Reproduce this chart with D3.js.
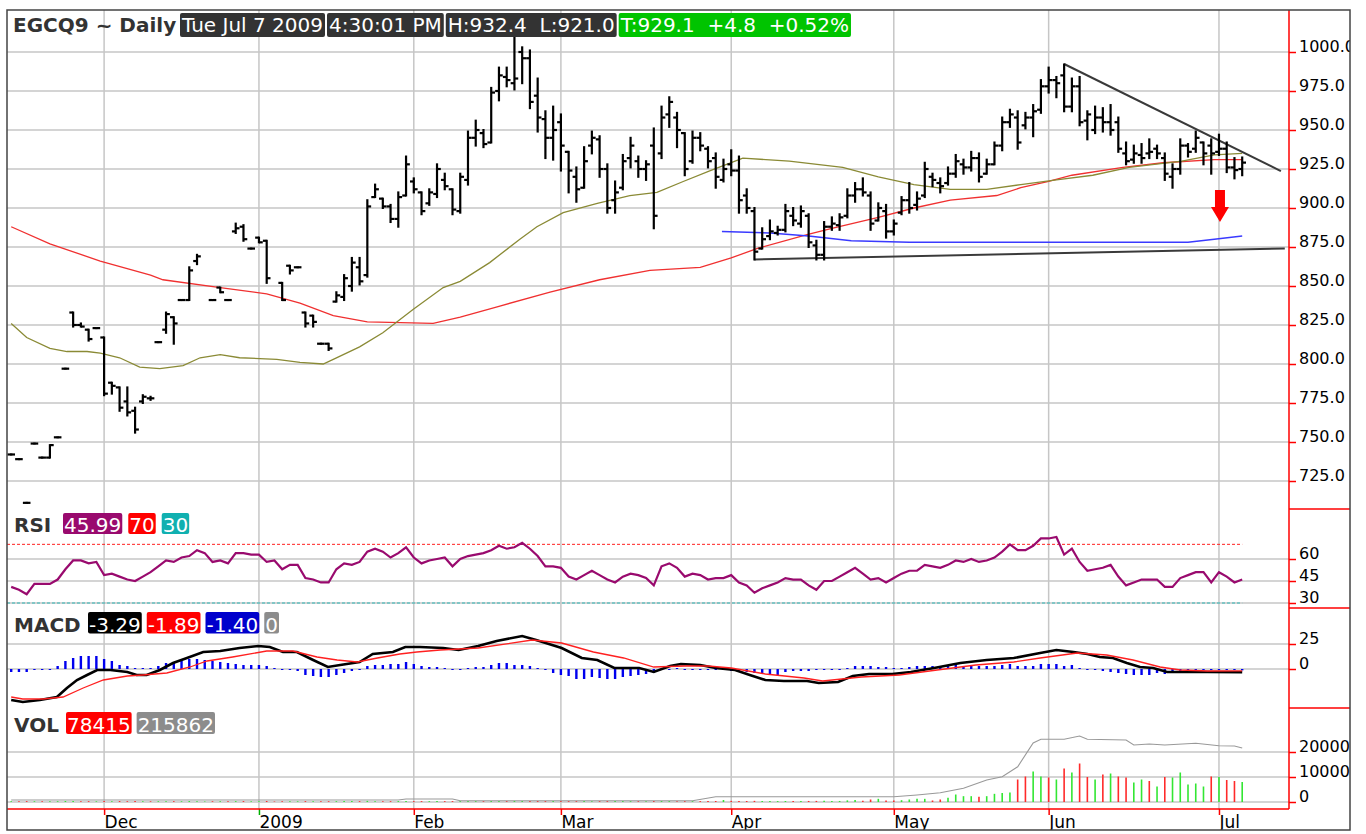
<!DOCTYPE html>
<html>
<head>
<meta charset="utf-8">
<script src="https://cdn.jsdelivr.net/npm/d3@7"></script>
<style>
body { margin: 0; background: #fff; }
svg { display: block; font-family: "DejaVu Sans", Verdana, sans-serif; }
</style>
</head>
<body>
<svg id="chart" width="1366" height="834"></svg>
<script>
// ---- data (one slot per trading day, slot 0 = mid Nov 2008) ----
const open = [
  742,739,711,749,740,740,753,797,833,825,
  822,823,817,788,785,776,770,776,778,814,
  822,830,841,841,866,null,841,849,841,885,
  888,874,881,879,null,852,863,862,833,831,
  813,813,840,843,850,862,857,907,906,901,
  893,908,917,910,903,909,918,912,898,918,
  945,948,942,975,984,980,1000,996,972,957,
  945,955,936,920,913,940,944,925,905,913,
  932,930,925,940,935,960,958,948,930,945,
  938,932,918,928,924,908,898,874,882,884,
  886,895,890,895,876,870,888,889,895,908,
  912,908,892,898,885,897,905,902,908,920,
  916,916,922,928,926,932,922,928,940,955,
  958,953,958,963,978,982,985,965,978,956,
  950,958,955,955,935,931,934,935,938,932,
  920,925,940,938,942,940,936,938,926,925];
const high = [
  742,739,711,749,740,748,753,797,833,826,
  822,823,817,788,785,785,772,780,779,814,
  833,830,841,862,870,null,841,849,841,890,
  889,874,881,879,null,852,863,862,833,831,
  813,813,846,857,868,868,905,915,906,902,
  910,933,919,910,912,928,922,912,922,949,
  956,950,977,990,990,1009,1003,1001,983,962,
  965,960,936,926,939,949,946,928,917,934,
  945,933,930,951,965,971,961,948,949,948,
  939,935,931,937,933,912,900,887,892,888,
  902,900,901,896,879,891,894,896,912,916,
  919,910,903,902,892,907,916,910,929,922,
  919,926,934,931,936,935,931,942,958,963,
  962,961,966,982,990,984,992,983,984,962,
  965,964,966,958,942,940,941,944,940,935,
  928,944,941,949,942,944,947,942,932,932.4];
const low = [
  742,739,711,749,740,740,753,797,824,824,
  815,823,780,781,770,767,756,775,777,814,
  820,813,841,841,864,null,841,846,841,884,
  879,874,878,852,null,841,858,862,824,824,
  813,809,840,841,847,851,856,907,900,891,
  888,908,910,896,902,907,912,896,897,915,
  940,939,942,969,978,976,980,964,949,932,
  931,924,910,904,913,935,920,897,897,912,
  926,920,918,887,932,952,939,921,929,937,
  926,913,917,921,897,897,867,874,880,883,
  885,889,888,875,867,867,886,886,894,904,
  908,886,892,881,883,896,897,899,907,914,
  910,915,920,922,924,917,922,928,937,952,
  938,951,946,961,974,971,962,962,953,944,
  948,949,947,936,928,929,929,932,932,918,
  913,922,933,936,928,922,934,923,919,921];
const close = [
  742,739,711,749,740,748,753,797,825,824,
  816,823,781,786,772,769,758,779,778,814,
  832,826,841,860,869,null,841,846,841,887,
  880,874,878,855,null,841,860,862,826,827,
  813,810,844,855,865,853,901,912,901,893,
  907,928,912,898,910,925,914,899,920,945,
  950,941,974,985,982,983,996,968,958,945,
  950,940,924,912,930,945,925,900,910,930,
  940,925,928,895,958,968,950,925,945,940,
  930,920,925,924,905,900,872,880,885,886,
  898,892,898,878,870,888,890,894,908,912,
  910,890,900,885,890,905,900,906,925,918,
  914,922,930,926,932,920,928,940,955,960,
  942,958,962,978,982,980,965,978,955,960,
  958,955,950,938,930,935,932,936,935,922,
  925,940,936,945,935,935,938,926,924.3,929.1];

// moving averages and the blue line, as [slot, price] points
const maRed = [[0,888],[5,877],[11.5,866],[18,857],[19.6,854],[27,849],[33,845],[37.3,839],
  [41.6,831],[46,827],[54.5,826],[58,830],[63,837],[69.6,846],[76,854],[82.5,860],[89,862],
  [93,868],[96.3,874],[102.8,883],[106,887],[112,894],[116.6,900],[121.3,905],[127.3,908],
  [130.4,913],[134,917],[137,921],[143.6,926],[148.8,929],[155.4,931],[159,931]];
const maOlive = [[0,826],[2,817],[5,810],[7.2,808],[9.8,808],[11.5,807],[14,804],[16.6,798],
  [19.2,797],[22.2,799],[24.4,804],[27,806],[29.5,804],[34.3,803],[37.3,801],[40.3,800],
  [41.6,803],[45,811],[48,820],[51.9,835],[55.8,849],[58,853],[61.8,865],[65.7,880],
  [67.9,888],[71.3,897],[75.7,903],[79.9,908],[83.4,910],[86.8,917],[90.3,924],[94.5,932],
  [100.5,930],[107.4,926],[112,920],[116.6,915],[121.3,912],[126,912],[130.4,915],[135,918],
  [139.7,921],[144.4,926],[151.2,930],[155.4,934],[159,935]];
const blueLine = [[91.8,885],[98,884],[103,882],[108.5,879],[116,878],[124.5,878],[139,878],
  [144,878],[152,878],[155.4,880],[159,882]];
const supportLine = [[96,867],[164.5,874]];
const resistLine = [[136,992.3],[164,923.7]];

const rsi = [
  41,39,36,43,43,43,46,53,59,59,
  57,58,49,50,48,46,45,48,51,55,
  59,58,61,62,66,64,58,59,57,64,
  64,63,63,58,59,53,56,56,47,46,
  44,44,53,57,56,58,65,67,65,61,
  64,68,61,57,59,60,61,55,60,62,
  63,64,66,69,67,68,71,67,62,55,
  55,54,48,46,49,52,49,46,44,48,
  50,49,47,42,55,57,54,48,50,49,
  46,47,47,49,44,42,37,40,42,44,
  47,46,46,42,39,45,45,48,51,54,
  50,46,47,44,47,50,52,52,56,55,
  54,56,59,58,60,58,59,61,65,70,
  66,66,69,74,74,75,63,67,58,52,
  53,54,56,48,42,44,46,46,46,41,
  41,47,49,51,51,44,51,48,44,45.99];

const macdLine = [[0,-31],[1.5,-33],[3.7,-31],[5.9,-28],[7.2,-19],[8.5,-11],[9.8,-6],[11.1,-1],
  [12.8,-1],[15,-3],[16.2,-6],[17.5,-6],[19.2,-1],[20.9,6],[22.7,11],[24.8,17],[27,18],
  [29.5,21],[31.9,23],[33.4,22],[35.1,17],[36.9,17],[39,9],[40.9,2],[42.5,4],[45,7],
  [46.7,15],[49.3,17],[50.9,22],[52.8,22],[55.8,21],[57.8,19],[60.3,23],[62.7,28],[66,33],
  [67.8,29],[71.1,21],[73.7,11],[75.7,9],[77.9,1],[81.1,1],[83,-3],[85.1,3],[86.5,5],[89,4],
  [91,1],[93.5,-1],[95.4,-6],[97.4,-11],[99.8,-12],[102.8,-12],[104.3,-14],[106.8,-13],
  [108.7,-7],[110.8,-5],[113.8,-5],[116.2,-3],[119.2,1],[122.6,6],[126,9],[129.5,11],
  [132.9,16],[135,19],[137.2,17],[139,15],[140.6,12],[142.3,11],[144.1,6],[145.8,2],
  [147.5,1],[149.3,-3],[151.9,-3],[154.5,-3],[159,-3.29]];
const signalLine = [[0,-28],[1.5,-30],[4.1,-30],[6.7,-28],[9.3,-19],[11.9,-11],[15,-7],[17,-6],
  [20.1,-4],[23.1,2],[25.3,8],[28.6,12],[33,18],[36.4,18],[39.5,12],[42.1,9],[44.7,7],
  [47.3,11],[50.2,15],[52.4,17],[55.4,19],[60.3,21],[67.3,29],[71.1,26],[75.2,17],[79.1,11],
  [83,2],[87,3],[90,3],[93,1],[97.4,-5],[102.4,-9],[104.8,-12],[109.8,-8],[114.7,-6],
  [119.6,-1],[124.6,4],[129.5,7],[132.9,11],[137.7,16],[141.5,14],[144.9,9],[148.4,2],
  [151,-1],[154.5,-2],[159,-1.89]];
const hist = [
  -3,-3,-3,0,0,0,3,8,11,13,
  13,13,10,8,4,3,1,1,1,3,
  6,7,8,10,10,9,8,7,6,5,
  4,4,4,3,1,0,-1,-2,-6,-7,
  -8,-8,-6,-4,-2,-1,3,4,4,5,
  5,7,5,3,2,2,1,0,0,1,
  2,2,4,6,6,4,4,3,1,-1,
  -4,-6,-7,-10,-10,-8,-9,-10,-10,-8,
  -7,-6,-5,-4,-1,0,1,0,0,0,
  0,-1,-1,-2,-2,-3,-4,-5,-5,-6,
  -3,-2,-2,-2,-1,-1,-1,0,1,3,
  3,3,2,2,1,1,2,3,3,3,
  3,4,4,3,3,3,3,3,4,5,
  3,3,3,5,5,5,3,4,1,0,
  -1,-2,-3,-4,-5,-6,-6,-6,-4,-5,
  -4,-2,-2,-1,-1,-1,0,0,-1,-1.40];

const volume = [
  1200,800,1500,1000,900,1400,1100,2000,1600,900,
  1300,700,2400,1500,1800,1200,1600,900,800,1000,
  1500,1300,900,1800,1200,0,1000,1100,800,1400,
  1600,700,1200,1900,0,1400,1000,800,1500,1100,
  900,1000,1300,1600,1800,1400,2500,1500,1200,1300,
  1600,2000,1400,1500,1200,1700,1300,1500,1600,2100,
  1500,1300,2000,2200,1600,2400,1800,2200,2000,1700,
  1900,1800,1600,1500,1700,1400,1500,1800,1600,1700,
  1500,1400,1300,2200,2000,1700,1500,1600,1400,1500,
  1800,2000,6000,2500,2200,2000,2600,1800,2000,1700,
  1900,1600,1800,2200,2400,2600,2000,2200,4500,6000,
  3000,8000,10700,4000,4000,5300,8000,10700,10700,4000,
  8000,14700,28000,21300,21300,18700,21300,30700,34000,36000,
  88000,100000,120000,100000,96000,88000,132000,116000,152000,98000,
  88000,108000,112000,100000,96000,76000,88000,82000,60000,98000,
  96000,116000,68000,72000,60000,100000,98000,86000,82000,78415];
// g = up day, r = down day
const volDir =
  "grrgrggggr" + "rgrgrrrgrg" + "grggggrgrg" + "rggrrrggrg" + "rrgggrggrr" +
  "ggrrggrrgg" + "grggrggrrr" + "grrrggrrgg" + "grgrggrrgr" + "rrgrrrrggg" +
  "grgrrggggg" + "rrgrrggggr" + "rggggrgggg" + "rrggrgrgrr" + "grgrrggrgr" + "gggggrgrrg";
const openInterest = [[0,8000],[50,8000],[51,12000],[57,12000],[58,5000],[88,5000],[91,21000],
  [114,21000],[117,28000],[120,37000],[123,55000],[126,88000],[128,101000],[130,141000],
  [132,236000],[133,251000],[136,251000],[138,264000],[139,251000],[144,248000],[145,228000],
  [147,232000],[149,228000],[153,235000],[156,225000],[158,224000],[159,215862]];

const monthLabels = ["Dec", "2009", "Feb", "Mar", "Apr", "May", "Jun", "Jul"];
const monthSlots = [12, 32, 52, 71, 93, 114, 134, 156];

const priceTicks = [725, 750, 775, 800, 825, 850, 875, 900, 925, 950, 975, 1000];
const rsiTicks = [30, 45, 60];
const macdTicks = [0, 25];
const volTicks = [0, 100000, 200000];

const topBoxes = [["Tue Jul 7 2009", "#333333"], ["4:30:01 PM", "#333333"],
  ["H:932.4  L:921.0", "#333333"], ["T:929.1  +4.8  +0.52%", "#00c400"]];
const rsiBoxes = [["45.99", "#990a6e"], ["70", "#ff0000"], ["30", "#10b0b0"]];
const macdBoxes = [["-3.29", "#000000"], ["-1.89", "#ff0000"], ["-1.40", "#0000cc"], ["0", "#8c8c8c"]];
const volBoxes = [["78415", "#ff0000"], ["215862", "#8c8c8c"]];

// ---- layout ----
const L = 7, R = 1350, T = 10, B = 830, AX = 1289;
const svg = d3.select("#chart");

const x = d3.scaleLinear().domain([0, 159]).range([11.2, 1242.2]);
const yP = d3.scaleLinear().domain([725, 1000]).range([481, 52]);
const yR = d3.scaleLinear().domain([30, 60]).range([603, 559]);
const yM = d3.scaleLinear().domain([0, 25]).range([669, 644]);
const yV = d3.scaleLinear().domain([0, 200000]).range([802, 752]);

const panels = [
  { id: "cp", top: T, bottom: 509 },
  { id: "cr", top: 509, bottom: 608 },
  { id: "cm", top: 608, bottom: 708 },
  { id: "cv", top: 708, bottom: 809 }];

const defs = svg.append("defs");
panels.forEach(p => {
  defs.append("clipPath").attr("id", p.id).append("rect")
    .attr("x", L).attr("y", p.top).attr("width", AX - L).attr("height", p.bottom - p.top);
});
defs.append("clipPath").attr("id", "cframe").append("rect")
  .attr("x", L).attr("y", T).attr("width", R - L).attr("height", B - T);

svg.append("rect").attr("width", 1366).attr("height", 834).attr("fill", "#fff");

const grid = svg.append("g").attr("stroke", "#c6c6c6").attr("stroke-width", 1.5);
// month gridlines
grid.selectAll(".vg").data(monthSlots).enter().append("line")
  .attr("x1", d => x(d)).attr("x2", d => x(d)).attr("y1", T).attr("y2", 809);
function hgrid(vals, scale) {
  grid.selectAll(null).data(vals).enter().append("line")
    .attr("x1", L).attr("x2", AX).attr("y1", d => scale(d)).attr("y2", d => scale(d));
}
hgrid(priceTicks, yP);
hgrid(rsiTicks, yR);
hgrid(macdTicks, yM);
hgrid(volTicks, yV);

// ---- price panel ----
const gp = svg.append("g").attr("clip-path", "url(#cp)");
const pline = d3.line().x(d => x(d[0])).y(d => yP(d[1]));

gp.append("path").attr("d", pline(maRed)).attr("fill", "none").attr("stroke", "#f03030").attr("stroke-width", 1.3);
gp.append("path").attr("d", pline(maOlive)).attr("fill", "none").attr("stroke", "#8a8a35").attr("stroke-width", 1.3);
gp.append("path").attr("d", pline(blueLine)).attr("fill", "none").attr("stroke", "#3a3aff").attr("stroke-width", 1.5);
gp.append("path").attr("d", pline(supportLine)).attr("fill", "none").attr("stroke", "#3a3a3a").attr("stroke-width", 2);
gp.append("path").attr("d", pline(resistLine)).attr("fill", "none").attr("stroke", "#3a3a3a").attr("stroke-width", 2);

const slots = d3.range(close.length).filter(i => close[i] != null);
const bars = gp.append("g").attr("stroke", "#000").attr("stroke-width", 2.2);
bars.selectAll(".hl").data(slots).enter().append("line")
  .attr("x1", i => x(i)).attr("x2", i => x(i))
  .attr("y1", i => yP(high[i]) - 1).attr("y2", i => yP(low[i]) + 1);
bars.selectAll(".op").data(slots).enter().append("line")
  .attr("x1", i => x(i) - 3.8).attr("x2", i => x(i))
  .attr("y1", i => yP(open[i])).attr("y2", i => yP(open[i]));
bars.selectAll(".cl").data(slots).enter().append("line")
  .attr("x1", i => x(i)).attr("x2", i => x(i) + 3.8)
  .attr("y1", i => yP(close[i])).attr("y2", i => yP(close[i]));

// red arrow
const ax = x(156) + 1;
gp.append("path")
  .attr("d", "M" + (ax - 5) + "," + yP(911.5) + "H" + (ax + 5) + "V" + yP(900.6) +
    "H" + (ax + 9) + "L" + ax + "," + yP(891) + "L" + (ax - 9) + "," + yP(900.6) +
    "H" + (ax - 5) + "Z")
  .attr("fill", "#ff0000");

// ---- RSI panel ----
const gr = svg.append("g").attr("clip-path", "url(#cr)");
gr.append("line").attr("x1", L).attr("x2", x(159)).attr("y1", yR(70)).attr("y2", yR(70))
  .attr("stroke", "#ff2020").attr("stroke-width", 1).attr("stroke-dasharray", "3,2");
gr.append("line").attr("x1", L).attr("x2", x(159)).attr("y1", yR(30)).attr("y2", yR(30))
  .attr("stroke", "#30b8b8").attr("stroke-width", 1).attr("stroke-dasharray", "3,2");
gr.append("path")
  .attr("d", d3.line().x((d, i) => x(i)).y(d => yR(d))(rsi))
  .attr("fill", "none").attr("stroke", "#990a6e").attr("stroke-width", 2.2);

// ---- MACD panel ----
const gm = svg.append("g").attr("clip-path", "url(#cm)");
gm.selectAll(".hb").data(hist).enter().append("rect")
  .attr("x", (d, i) => x(i) - 1.2).attr("width", 2.4)
  .attr("y", d => Math.min(yM(d), yM(0))).attr("height", d => Math.max(1, Math.abs(yM(d) - yM(0))))
  .attr("fill", "#0000ee");
const mline = d3.line().x(d => x(d[0])).y(d => yM(d[1]));
gm.append("path").attr("d", mline(macdLine)).attr("fill", "none").attr("stroke", "#000").attr("stroke-width", 2.6);
gm.append("path").attr("d", mline(signalLine)).attr("fill", "none").attr("stroke", "#ff2020").attr("stroke-width", 1.3);

// ---- volume panel ----
const gv = svg.append("g").attr("clip-path", "url(#cv)");
gv.selectAll(".vb").data(volume).enter().append("line")
  .attr("x1", (d, i) => x(i)).attr("x2", (d, i) => x(i))
  .attr("y1", yV(0)).attr("y2", d => yV(d) - 0.5)
  .attr("stroke", (d, i) => volDir[i] == "g" ? "#33e633" : "#ff2a2a")
  .attr("stroke-width", 1.6);
gv.append("path")
  .attr("d", d3.line().x(d => x(d[0])).y(d => yV(d[1]))(openInterest))
  .attr("fill", "none").attr("stroke", "#999").attr("stroke-width", 1.1);

// ---- axes ----
const axes = svg.append("g").attr("clip-path", "url(#cframe)");
function rightAxis(scale, ticks, fmt) {
  const g = axes.append("g").attr("transform", "translate(" + AX + ",0)")
    .call(d3.axisRight(scale).tickValues(ticks).tickSize(7).tickFormat(fmt));
  g.select(".domain").remove();
  g.selectAll(".tick line").attr("stroke", "#ff0000").attr("stroke-width", 1.5);
  g.selectAll(".tick text").attr("x", 10).attr("dy", "-0.5")
    .attr("fill", "#000").style("font-size", "16px").style("font-family", "DejaVu Sans, Verdana, sans-serif");
}
rightAxis(yP, priceTicks, d3.format(".1f"));
rightAxis(yR, rsiTicks, d3.format("d"));
rightAxis(yM, macdTicks, d3.format("d"));
rightAxis(yV, volTicks, d3.format("d"));

const xa = axes.append("g").attr("transform", "translate(0,809)")
  .call(d3.axisBottom(x).tickValues(monthSlots).tickSize(6).tickFormat((d, i) => monthLabels[i]));
xa.select(".domain").remove();
xa.selectAll(".tick line").attr("stroke", (d, i) => monthLabels[i] == "2009" ? "#00b000" : "#ff0000").attr("stroke-width", 1.5);
xa.selectAll(".tick text").attr("y", 19).attr("dy", 0).attr("text-anchor", "start")
  .attr("fill", "#000").style("font-size", "17px").style("font-family", "DejaVu Sans, Verdana, sans-serif");

// red axis frame lines
const red = svg.append("g").attr("stroke", "#ff0000").attr("stroke-width", 1.5);
red.append("line").attr("x1", AX).attr("x2", AX).attr("y1", T).attr("y2", 809);
red.append("line").attr("x1", L).attr("x2", AX).attr("y1", 809).attr("y2", 809);
[509, 608, 708].forEach(y => {
  red.append("line").attr("x1", AX).attr("x2", R).attr("y1", y).attr("y2", y);
});

// ---- header rows ----
function headerRow(label, boxes, startX, boxTop, boxH, baseline, gap, pad) {
  if (label) {
    svg.append("text").attr("x", 14).attr("y", baseline).text(label)
      .attr("font-weight", "bold").attr("font-size", 20).attr("fill", "#333");
  }
  let cx = startX;
  boxes.forEach(b => {
    const g = svg.append("g");
    const r = g.append("rect");
    const t = g.append("text").attr("x", cx + pad).attr("y", baseline).text(b[0])
      .attr("font-size", 20).attr("fill", "#fff").style("white-space", "pre");
    const w = t.node().getComputedTextLength() + pad * 2;
    r.attr("x", cx).attr("y", boxTop).attr("width", w).attr("height", boxH)
      .attr("rx", 2).attr("fill", b[1]);
    cx += w + gap;
  });
}
svg.append("text").attr("x", 13).attr("y", 32).text("EGCQ9 ~ Daily")
  .attr("font-weight", "bold").attr("font-size", 20).attr("fill", "#333");
headerRow(null, topBoxes, 180, 13, 24, 32, 2, 2);
headerRow("RSI", rsiBoxes, 63, 513, 21, 532, 6, 1);
headerRow("MACD", macdBoxes, 88, 612, 21.5, 632, 5, 1);
headerRow("VOL", volBoxes, 66, 712, 22, 732, 5, 1);

// outer frame
svg.append("rect").attr("x", L).attr("y", T).attr("width", R - L).attr("height", B - T)
  .attr("fill", "none").attr("stroke", "#444").attr("stroke-width", 1.5);
</script>
</body>
</html>
